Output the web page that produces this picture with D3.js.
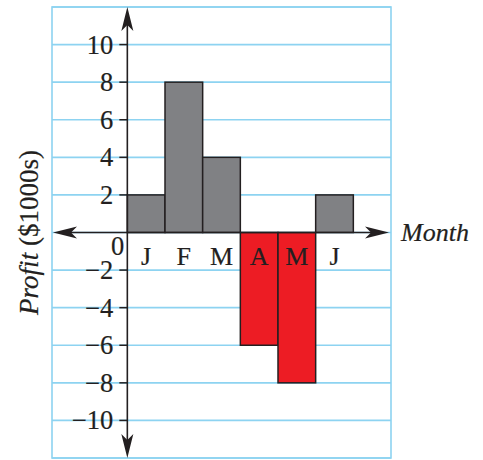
<!DOCTYPE html>
<html><head><meta charset="utf-8">
<script src="https://cdn.jsdelivr.net/npm/d3@7"></script>
<style>body{margin:0;background:#fff}svg{display:block}text{stroke:#231f20;stroke-width:0.2px}</style>
</head><body>
<script>
const months = ["J","F","M","A","M","J"];
const profits = [2, 8, 4, -6, -8, 2];
const yTicks = [-10,-8,-6,-4,-2,2,4,6,8,10];
const gridValues = [-12,-10,-8,-6,-4,-2,0,2,4,6,8,10,12];

const W = 483, H = 460;
const svg = d3.select("body").append("svg").attr("width", W).attr("height", H);
const y = d3.scaleLinear().domain([-12, 12]).range([458, 7]);
const x = d3.scaleLinear().domain([-2, 7]).range([52, 391]);
const ink = "#231f20", blue = "#8dd3f1", serif = "'Liberation Serif','Times New Roman',serif";

// grid
svg.append("g").selectAll("line").data(gridValues).join("line")
  .attr("x1", x(-2)).attr("x2", x(7)).attr("y1", d => y(d)).attr("y2", d => y(d))
  .attr("stroke", blue).attr("stroke-width", 1.6);
svg.append("rect").attr("x", x(-2)).attr("y", y(12)).attr("width", x(7)-x(-2)).attr("height", y(-12)-y(12))
  .attr("fill", "none").attr("stroke", blue).attr("stroke-width", 1.6);

// bars
svg.append("g").selectAll("rect").data(profits).join("rect")
  .attr("x", (d,i) => x(i)).attr("width", x(1)-x(0))
  .attr("y", d => y(Math.max(0,d))).attr("height", d => Math.abs(y(d)-y(0)))
  .attr("fill", d => d < 0 ? "#ed1c24" : "#808184")
  .attr("stroke", ink).attr("stroke-width", 1.5);

// axes lines
svg.append("line").attr("x1", x(0)).attr("x2", x(0)).attr("y1", y(12)+10).attr("y2", y(-12)-10)
  .attr("stroke", ink).attr("stroke-width", 1.6);
svg.append("line").attr("x1", x(-2)+10).attr("x2", x(7)-10).attr("y1", y(0)).attr("y2", y(0))
  .attr("stroke", ink).attr("stroke-width", 1.6);

// arrowheads (stealth)
function arrow(tx, ty, angle) {
  svg.append("path").attr("d", "M0,0 L-24,-6 L-18,0 L-24,6 Z")
    .attr("transform", `translate(${tx},${ty}) rotate(${angle})`).attr("fill", ink);
}
arrow(x(0), y(12), -90);
arrow(x(0), y(-12), 90);
arrow(x(-2)+1, y(0), 180);
arrow(x(7)-2, y(0), 0);

// y ticks
const tg = svg.append("g");
tg.selectAll("line").data(yTicks).join("line")
  .attr("x1", x(0)-8).attr("x2", x(0)).attr("y1", d => y(d)).attr("y2", d => y(d))
  .attr("stroke", ink).attr("stroke-width", 1.5);
tg.selectAll("text").data(yTicks).join("text")
  .attr("x", x(0)-14).attr("y", d => y(d)+9)
  .attr("text-anchor", "end").attr("font-family", serif).attr("font-size", 26.5).attr("fill", ink)
  .text(d => d < 0 ? "\u2212" + Math.abs(d) : d);
svg.append("text").attr("x", x(0)-3).attr("y", y(0)+22).attr("text-anchor", "end")
  .attr("font-family", serif).attr("font-size", 26.5).attr("fill", ink).text("0");

// month labels
svg.append("g").selectAll("text").data(months).join("text")
  .attr("x", (d,i) => x(i+0.5)).attr("y", y(0)+32).attr("text-anchor", "middle")
  .attr("font-family", serif).attr("font-size", 26).attr("fill", ink).text(d => d);

// axis titles
svg.append("text").attr("x", 401).attr("y", y(0)+8).attr("font-family", serif)
  .attr("font-style", "italic").attr("font-size", 26).attr("fill", ink).text("Month");
const yl = svg.append("text").attr("transform", `translate(38,${y(0)}) rotate(-90)`)
  .attr("text-anchor", "middle").attr("font-family", serif).attr("font-size", 27).attr("fill", ink);
yl.append("tspan").attr("font-style", "italic").text("Profit");
yl.append("tspan").text(" ($1000s)");
</script>
</body></html>
